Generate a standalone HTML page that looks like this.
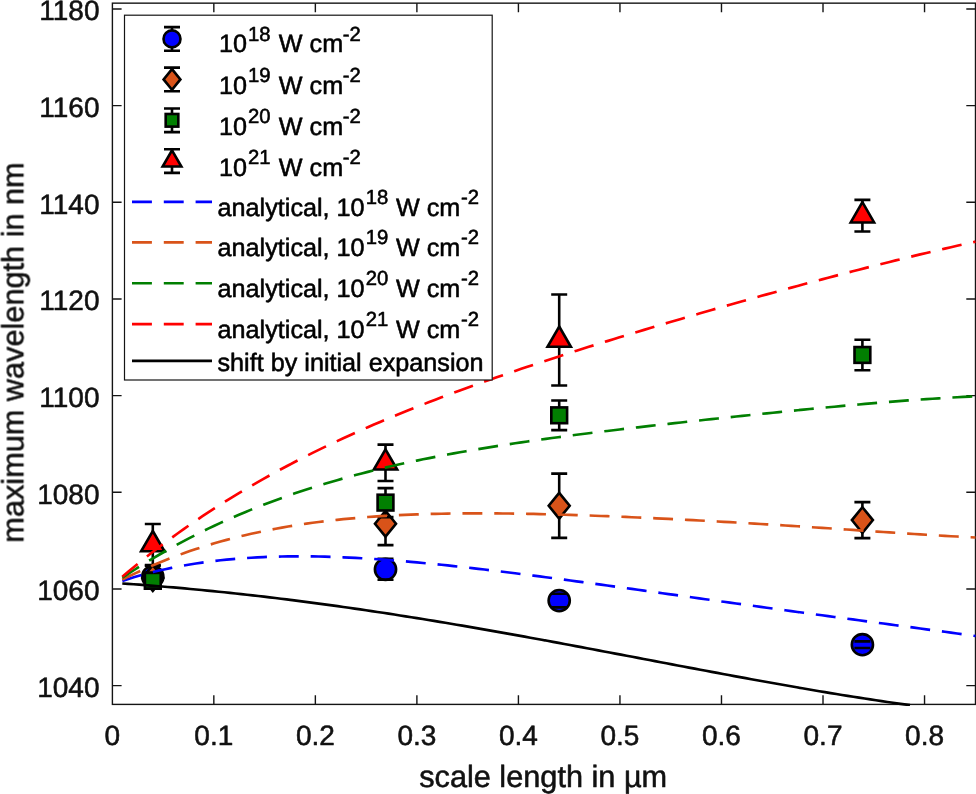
<!DOCTYPE html>
<html><head><meta charset="utf-8"><title>maximum wavelength vs scale length</title>
<style>
html,body{margin:0;padding:0;background:#fff;}
svg{display:block;}
text{font-family:"Liberation Sans", sans-serif;fill:#000;stroke:#000;stroke-width:0.55px;stroke-linejoin:round;text-rendering:geometricPrecision;}
.tick{font-size:28px;fill:#111;stroke:#111;}
.lab{font-size:30.7px;fill:#111;stroke:#111;}
.leg{font-size:25.2px;}
.sup{font-size:20.3px;}
</style></head><body>
<svg width="976" height="794" viewBox="0 0 976 794">
<rect x="0" y="0" width="976" height="794" fill="#ffffff"/>
<g opacity="0.999">
<defs><clipPath id="ax"><rect x="112.4" y="3.15" width="864.1" height="702.85"/></clipPath></defs>

<g stroke="#141414" stroke-width="1.4" fill="none" stroke-linecap="butt">
<rect x="112.4" y="3.15" width="863.1" height="701.25"/>
<path d="M213.83 704.4v-9.2M213.83 3.15v9.2"/>
<path d="M315.36 704.4v-9.2M315.36 3.15v9.2"/>
<path d="M416.89 704.4v-9.2M416.89 3.15v9.2"/>
<path d="M518.42 704.4v-9.2M518.42 3.15v9.2"/>
<path d="M619.95 704.4v-9.2M619.95 3.15v9.2"/>
<path d="M721.48 704.4v-9.2M721.48 3.15v9.2"/>
<path d="M823.01 704.4v-9.2M823.01 3.15v9.2"/>
<path d="M924.54 704.4v-9.2M924.54 3.15v9.2"/>
<path d="M112.4 685.60h9.2M975.5 685.60h-9.2"/>
<path d="M112.4 588.94h9.2M975.5 588.94h-9.2"/>
<path d="M112.4 492.28h9.2M975.5 492.28h-9.2"/>
<path d="M112.4 395.62h9.2M975.5 395.62h-9.2"/>
<path d="M112.4 298.96h9.2M975.5 298.96h-9.2"/>
<path d="M112.4 202.30h9.2M975.5 202.30h-9.2"/>
<path d="M112.4 105.64h9.2M975.5 105.64h-9.2"/>
<path d="M112.4 8.98h9.2M975.5 8.98h-9.2"/>
</g>
<g clip-path="url(#ax)">
<path d="M152.80 565.70V587.70" stroke="#000" stroke-width="2.6" fill="none"/>
<circle cx="152.80" cy="576.70" r="10.60" fill="#0000ff" stroke="#000" stroke-width="2.6" stroke-linejoin="miter"/>
<path d="M144.80 565.70h16M144.80 587.70h16" stroke="#000" stroke-width="2.6" fill="none"/>
<path d="M385.50 558.80V579.80" stroke="#000" stroke-width="2.6" fill="none"/>
<circle cx="385.50" cy="569.30" r="10.60" fill="#0000ff" stroke="#000" stroke-width="2.6" stroke-linejoin="miter"/>
<path d="M377.50 558.80h16M377.50 579.80h16" stroke="#000" stroke-width="2.6" fill="none"/>
<path d="M559.20 593.80V607.40" stroke="#000" stroke-width="2.6" fill="none"/>
<circle cx="559.20" cy="600.60" r="10.60" fill="#0000ff" stroke="#000" stroke-width="2.6" stroke-linejoin="miter"/>
<path d="M551.20 593.80h16M551.20 607.40h16" stroke="#000" stroke-width="2.6" fill="none"/>
<path d="M862.40 641.40V648.00" stroke="#000" stroke-width="2.6" fill="none"/>
<circle cx="862.40" cy="644.70" r="10.60" fill="#0000ff" stroke="#000" stroke-width="2.6" stroke-linejoin="miter"/>
<path d="M854.40 641.40h16M854.40 648.00h16" stroke="#000" stroke-width="2.6" fill="none"/>
<path d="M152.80 573.00V583.00" stroke="#000" stroke-width="2.6" fill="none"/>
<path d="M152.80 565.10L163.30 578.00L152.80 590.90L142.30 578.00Z" fill="#d95319" stroke="#000" stroke-width="2.6" stroke-linejoin="miter"/>
<path d="M144.80 573.00h16M144.80 583.00h16" stroke="#000" stroke-width="2.6" fill="none"/>
<path d="M385.50 502.30V545.10" stroke="#000" stroke-width="2.6" fill="none"/>
<path d="M385.50 510.80L396.00 523.70L385.50 536.60L375.00 523.70Z" fill="#d95319" stroke="#000" stroke-width="2.6" stroke-linejoin="miter"/>
<path d="M377.50 502.30h16M377.50 545.10h16" stroke="#000" stroke-width="2.6" fill="none"/>
<path d="M559.20 473.60V537.90" stroke="#000" stroke-width="2.6" fill="none"/>
<path d="M559.20 492.85L569.70 505.75L559.20 518.65L548.70 505.75Z" fill="#d95319" stroke="#000" stroke-width="2.6" stroke-linejoin="miter"/>
<path d="M551.20 473.60h16M551.20 537.90h16" stroke="#000" stroke-width="2.6" fill="none"/>
<path d="M862.40 502.10V538.10" stroke="#000" stroke-width="2.6" fill="none"/>
<path d="M862.40 507.20L872.90 520.10L862.40 533.00L851.90 520.10Z" fill="#d95319" stroke="#000" stroke-width="2.6" stroke-linejoin="miter"/>
<path d="M854.40 502.10h16M854.40 538.10h16" stroke="#000" stroke-width="2.6" fill="none"/>
<path d="M152.80 572.80V588.80" stroke="#000" stroke-width="2.6" fill="none"/>
<rect x="144.90" y="572.90" width="15.80" height="15.80" fill="#007f00" stroke="#000" stroke-width="2.6" stroke-linejoin="miter"/>
<path d="M144.80 572.80h16M144.80 588.80h16" stroke="#000" stroke-width="2.6" fill="none"/>
<path d="M385.50 488.10V517.10" stroke="#000" stroke-width="2.6" fill="none"/>
<rect x="377.60" y="494.70" width="15.80" height="15.80" fill="#007f00" stroke="#000" stroke-width="2.6" stroke-linejoin="miter"/>
<path d="M377.50 488.10h16M377.50 517.10h16" stroke="#000" stroke-width="2.6" fill="none"/>
<path d="M559.20 400.50V430.10" stroke="#000" stroke-width="2.6" fill="none"/>
<rect x="551.30" y="407.40" width="15.80" height="15.80" fill="#007f00" stroke="#000" stroke-width="2.6" stroke-linejoin="miter"/>
<path d="M551.20 400.50h16M551.20 430.10h16" stroke="#000" stroke-width="2.6" fill="none"/>
<path d="M862.40 339.70V370.20" stroke="#000" stroke-width="2.6" fill="none"/>
<rect x="854.50" y="347.05" width="15.80" height="15.80" fill="#007f00" stroke="#000" stroke-width="2.6" stroke-linejoin="miter"/>
<path d="M854.40 339.70h16M854.40 370.20h16" stroke="#000" stroke-width="2.6" fill="none"/>
<path d="M152.80 524.00V565.00" stroke="#000" stroke-width="2.6" fill="none"/>
<path d="M152.80 530.99L164.50 551.25L141.10 551.25Z" fill="#ff0000" stroke="#000" stroke-width="2.6" stroke-linejoin="miter"/>
<path d="M144.80 524.00h16M144.80 565.00h16" stroke="#000" stroke-width="2.6" fill="none"/>
<path d="M385.50 444.60V481.00" stroke="#000" stroke-width="2.6" fill="none"/>
<path d="M385.50 449.29L397.20 469.55L373.80 469.55Z" fill="#ff0000" stroke="#000" stroke-width="2.6" stroke-linejoin="miter"/>
<path d="M377.50 444.60h16M377.50 481.00h16" stroke="#000" stroke-width="2.6" fill="none"/>
<path d="M559.20 294.55V385.45" stroke="#000" stroke-width="2.6" fill="none"/>
<path d="M559.20 326.49L570.90 346.75L547.50 346.75Z" fill="#ff0000" stroke="#000" stroke-width="2.6" stroke-linejoin="miter"/>
<path d="M551.20 294.55h16M551.20 385.45h16" stroke="#000" stroke-width="2.6" fill="none"/>
<path d="M862.40 199.90V231.50" stroke="#000" stroke-width="2.6" fill="none"/>
<path d="M862.40 202.19L874.10 222.45L850.70 222.45Z" fill="#ff0000" stroke="#000" stroke-width="2.6" stroke-linejoin="miter"/>
<path d="M854.40 199.90h16M854.40 231.50h16" stroke="#000" stroke-width="2.6" fill="none"/>
<path d="M122.30 580.87L128.44 578.90L134.58 577.04L140.71 575.29L146.85 573.62L152.99 572.06L159.13 570.58L165.27 569.20L171.41 567.90L177.54 566.68L183.68 565.54L189.82 564.48L195.96 563.50L202.10 562.59L208.23 561.76L214.37 560.99L220.51 560.29L226.65 559.65L232.79 559.08L238.92 558.56L245.06 558.11L251.20 557.71L257.34 557.36L263.48 557.07L269.62 556.83L275.75 556.64L281.89 556.49L288.03 556.39L294.17 556.34L300.31 556.33L306.44 556.36L312.58 556.43L318.72 556.53L324.86 556.68L331.00 556.86L337.13 557.07L343.27 557.32L349.41 557.59L355.55 557.90L361.69 558.24L367.83 558.60L373.96 558.99L380.10 559.41L386.24 559.85L392.38 560.32L398.52 560.81L404.65 561.32L410.79 561.85L416.93 562.40L423.07 562.97L429.21 563.56L435.34 564.16L441.48 564.78L447.62 565.42L453.76 566.07L459.90 566.74L466.04 567.42L472.17 568.11L478.31 568.82L484.45 569.54L490.59 570.26L496.73 571.00L502.86 571.75L509.00 572.51L515.14 573.28L521.28 574.05L527.42 574.83L533.55 575.62L539.69 576.42L545.83 577.23L551.97 578.03L558.11 578.85L564.25 579.67L570.38 580.49L576.52 581.32L582.66 582.16L588.80 582.99L594.94 583.83L601.07 584.68L607.21 585.52L613.35 586.37L619.49 587.22L625.63 588.07L631.76 588.93L637.90 589.78L644.04 590.64L650.18 591.49L656.32 592.35L662.46 593.21L668.59 594.07L674.73 594.93L680.87 595.79L687.01 596.65L693.15 597.51L699.28 598.36L705.42 599.22L711.56 600.08L717.70 600.93L723.84 601.79L729.97 602.64L736.11 603.49L742.25 604.35L748.39 605.20L754.53 606.04L760.67 606.89L766.80 607.74L772.94 608.58L779.08 609.43L785.22 610.27L791.36 611.11L797.49 611.95L803.63 612.78L809.77 613.62L815.91 614.45L822.05 615.29L828.18 616.12L834.32 616.95L840.46 617.78L846.60 618.60L852.74 619.43L858.88 620.26L865.01 621.08L871.15 621.91L877.29 622.73L883.43 623.55L889.57 624.38L895.70 625.20L901.84 626.02L907.98 626.84L914.12 627.67L920.26 628.49L926.39 629.32L932.53 630.15L938.67 630.97L944.81 631.80L950.95 632.63L957.09 633.47L963.22 634.31L969.36 635.15L975.50 635.99" fill="none" stroke="#0000ff" stroke-width="2.65" stroke-dasharray="19.9 11.9"/>
<path d="M122.30 579.62L128.44 576.56L134.58 573.60L140.71 570.73L146.85 567.97L152.99 565.29L159.13 562.71L165.27 560.22L171.41 557.82L177.54 555.50L183.68 553.27L189.82 551.12L195.96 549.05L202.10 547.06L208.23 545.15L214.37 543.31L220.51 541.55L226.65 539.86L232.79 538.24L238.92 536.69L245.06 535.20L251.20 533.78L257.34 532.43L263.48 531.13L269.62 529.90L275.75 528.72L281.89 527.60L288.03 526.54L294.17 525.53L300.31 524.57L306.44 523.66L312.58 522.80L318.72 521.99L324.86 521.23L331.00 520.51L337.13 519.83L343.27 519.19L349.41 518.60L355.55 518.04L361.69 517.53L367.83 517.05L373.96 516.60L380.10 516.19L386.24 515.81L392.38 515.46L398.52 515.15L404.65 514.86L410.79 514.60L416.93 514.37L423.07 514.16L429.21 513.98L435.34 513.83L441.48 513.70L447.62 513.59L453.76 513.50L459.90 513.43L466.04 513.38L472.17 513.35L478.31 513.34L484.45 513.35L490.59 513.37L496.73 513.41L502.86 513.46L509.00 513.53L515.14 513.62L521.28 513.71L527.42 513.82L533.55 513.94L539.69 514.07L545.83 514.22L551.97 514.37L558.11 514.54L564.25 514.72L570.38 514.90L576.52 515.09L582.66 515.30L588.80 515.51L594.94 515.73L601.07 515.95L607.21 516.19L613.35 516.43L619.49 516.68L625.63 516.94L631.76 517.20L637.90 517.47L644.04 517.74L650.18 518.02L656.32 518.31L662.46 518.60L668.59 518.90L674.73 519.20L680.87 519.51L687.01 519.83L693.15 520.15L699.28 520.47L705.42 520.80L711.56 521.13L717.70 521.47L723.84 521.82L729.97 522.17L736.11 522.52L742.25 522.88L748.39 523.24L754.53 523.60L760.67 523.97L766.80 524.35L772.94 524.73L779.08 525.11L785.22 525.49L791.36 525.88L797.49 526.28L803.63 526.67L809.77 527.07L815.91 527.47L822.05 527.88L828.18 528.28L834.32 528.69L840.46 529.10L846.60 529.51L852.74 529.93L858.88 530.34L865.01 530.75L871.15 531.17L877.29 531.58L883.43 531.99L889.57 532.40L895.70 532.80L901.84 533.21L907.98 533.60L914.12 534.00L920.26 534.39L926.39 534.77L932.53 535.15L938.67 535.51L944.81 535.87L950.95 536.22L957.09 536.55L963.22 536.88L969.36 537.19L975.50 537.48" fill="none" stroke="#d95319" stroke-width="2.65" stroke-dasharray="19.9 11.9"/>
<path d="M122.30 577.76L128.44 573.71L134.58 569.74L140.71 565.87L146.85 562.08L152.99 558.38L159.13 554.76L165.27 551.23L171.41 547.78L177.54 544.40L183.68 541.11L189.82 537.89L195.96 534.75L202.10 531.68L208.23 528.68L214.37 525.76L220.51 522.91L226.65 520.12L232.79 517.40L238.92 514.75L245.06 512.16L251.20 509.63L257.34 507.17L263.48 504.77L269.62 502.42L275.75 500.14L281.89 497.90L288.03 495.73L294.17 493.61L300.31 491.54L306.44 489.52L312.58 487.55L318.72 485.63L324.86 483.76L331.00 481.93L337.13 480.15L343.27 478.41L349.41 476.72L355.55 475.07L361.69 473.45L367.83 471.88L373.96 470.35L380.10 468.85L386.24 467.39L392.38 465.96L398.52 464.57L404.65 463.21L410.79 461.88L416.93 460.59L423.07 459.32L429.21 458.08L435.34 456.87L441.48 455.69L447.62 454.53L453.76 453.40L459.90 452.29L466.04 451.20L472.17 450.14L478.31 449.10L484.45 448.08L490.59 447.08L496.73 446.10L502.86 445.14L509.00 444.20L515.14 443.27L521.28 442.36L527.42 441.46L533.55 440.58L539.69 439.72L545.83 438.86L551.97 438.03L558.11 437.20L564.25 436.38L570.38 435.58L576.52 434.78L582.66 434.00L588.80 433.22L594.94 432.46L601.07 431.70L607.21 430.95L613.35 430.21L619.49 429.48L625.63 428.75L631.76 428.03L637.90 427.32L644.04 426.61L650.18 425.90L656.32 425.21L662.46 424.51L668.59 423.83L674.73 423.14L680.87 422.46L687.01 421.79L693.15 421.11L699.28 420.45L705.42 419.78L711.56 419.12L717.70 418.47L723.84 417.81L729.97 417.16L736.11 416.51L742.25 415.87L748.39 415.23L754.53 414.59L760.67 413.96L766.80 413.33L772.94 412.71L779.08 412.08L785.22 411.47L791.36 410.85L797.49 410.24L803.63 409.64L809.77 409.04L815.91 408.45L822.05 407.86L828.18 407.28L834.32 406.70L840.46 406.13L846.60 405.57L852.74 405.01L858.88 404.47L865.01 403.93L871.15 403.40L877.29 402.88L883.43 402.37L889.57 401.87L895.70 401.38L901.84 400.91L907.98 400.44L914.12 399.99L920.26 399.55L926.39 399.13L932.53 398.72L938.67 398.33L944.81 397.96L950.95 397.60L957.09 397.26L963.22 396.94L969.36 396.64L975.50 396.37" fill="none" stroke="#007f00" stroke-width="2.65" stroke-dasharray="19.9 11.9"/>
<path d="M122.30 576.64L128.44 571.48L134.58 566.41L140.71 561.44L146.85 556.56L152.99 551.77L159.13 547.07L165.27 542.45L171.41 537.92L177.54 533.48L183.68 529.11L189.82 524.82L195.96 520.61L202.10 516.47L208.23 512.41L214.37 508.41L220.51 504.49L226.65 500.64L232.79 496.85L238.92 493.12L245.06 489.46L251.20 485.86L257.34 482.32L263.48 478.84L269.62 475.42L275.75 472.05L281.89 468.73L288.03 465.47L294.17 462.26L300.31 459.10L306.44 455.99L312.58 452.92L318.72 449.90L324.86 446.93L331.00 443.99L337.13 441.10L343.27 438.25L349.41 435.44L355.55 432.67L361.69 429.94L367.83 427.24L373.96 424.58L380.10 421.95L386.24 419.36L392.38 416.79L398.52 414.26L404.65 411.76L410.79 409.29L416.93 406.84L423.07 404.43L429.21 402.04L435.34 399.67L441.48 397.33L447.62 395.02L453.76 392.73L459.90 390.46L466.04 388.21L472.17 385.98L478.31 383.78L484.45 381.59L490.59 379.42L496.73 377.27L502.86 375.14L509.00 373.03L515.14 370.93L521.28 368.85L527.42 366.78L533.55 364.73L539.69 362.69L545.83 360.67L551.97 358.66L558.11 356.66L564.25 354.68L570.38 352.70L576.52 350.74L582.66 348.80L588.80 346.86L594.94 344.93L601.07 343.01L607.21 341.11L613.35 339.21L619.49 337.32L625.63 335.44L631.76 333.57L637.90 331.71L644.04 329.86L650.18 328.02L656.32 326.18L662.46 324.35L668.59 322.53L674.73 320.72L680.87 318.91L687.01 317.11L693.15 315.32L699.28 313.54L705.42 311.76L711.56 309.99L717.70 308.23L723.84 306.48L729.97 304.73L736.11 302.99L742.25 301.25L748.39 299.52L754.53 297.80L760.67 296.09L766.80 294.38L772.94 292.68L779.08 290.99L785.22 289.31L791.36 287.63L797.49 285.96L803.63 284.30L809.77 282.64L815.91 281.00L822.05 279.36L828.18 277.73L834.32 276.10L840.46 274.49L846.60 272.89L852.74 271.29L858.88 269.71L865.01 268.13L871.15 266.56L877.29 265.01L883.43 263.46L889.57 261.92L895.70 260.40L901.84 258.88L907.98 257.38L914.12 255.89L920.26 254.41L926.39 252.94L932.53 251.48L938.67 250.04L944.81 248.61L950.95 247.19L957.09 245.79L963.22 244.40L969.36 243.02L975.50 241.66" fill="none" stroke="#ff0000" stroke-width="2.65" stroke-dasharray="19.9 11.9"/>
<path d="M122.30 583.46L127.97 583.86L133.63 584.27L139.30 584.69L144.97 585.12L150.63 585.56L156.30 586.01L161.97 586.47L167.64 586.95L173.30 587.43L178.97 587.93L184.64 588.44L190.30 588.96L195.97 589.49L201.64 590.03L207.30 590.58L212.97 591.14L218.64 591.72L224.30 592.30L229.97 592.90L235.64 593.50L241.31 594.12L246.97 594.75L252.64 595.39L258.31 596.04L263.97 596.69L269.64 597.36L275.31 598.04L280.97 598.73L286.64 599.43L292.31 600.15L297.97 600.87L303.64 601.60L309.31 602.34L314.97 603.09L320.64 603.85L326.31 604.62L331.98 605.39L337.64 606.18L343.31 606.98L348.98 607.79L354.64 608.60L360.31 609.43L365.98 610.26L371.64 611.10L377.31 611.95L382.98 612.81L388.64 613.68L394.31 614.56L399.98 615.44L405.65 616.33L411.31 617.23L416.98 618.14L422.65 619.06L428.31 619.98L433.98 620.91L439.65 621.85L445.31 622.79L450.98 623.74L456.65 624.70L462.31 625.67L467.98 626.64L473.65 627.61L479.32 628.60L484.98 629.59L490.65 630.58L496.32 631.58L501.98 632.59L507.65 633.60L513.32 634.62L518.98 635.64L524.65 636.67L530.32 637.70L535.98 638.73L541.65 639.77L547.32 640.82L552.98 641.86L558.65 642.91L564.32 643.97L569.99 645.03L575.65 646.09L581.32 647.15L586.99 648.22L592.65 649.28L598.32 650.35L603.99 651.43L609.65 652.50L615.32 653.58L620.99 654.65L626.65 655.73L632.32 656.81L637.99 657.89L643.66 658.97L649.32 660.05L654.99 661.13L660.66 662.21L666.32 663.28L671.99 664.36L677.66 665.44L683.32 666.51L688.99 667.59L694.66 668.66L700.32 669.73L705.99 670.79L711.66 671.86L717.33 672.92L722.99 673.98L728.66 675.03L734.33 676.08L739.99 677.13L745.66 678.17L751.33 679.21L756.99 680.24L762.66 681.27L768.33 682.29L773.99 683.31L779.66 684.32L785.33 685.32L790.99 686.32L796.66 687.31L802.33 688.30L808.00 689.27L813.66 690.24L819.33 691.20L825.00 692.15L830.66 693.09L836.33 694.02L842.00 694.95L847.66 695.86L853.33 696.76L859.00 697.66L864.66 698.54L870.33 699.41L876.00 700.27L881.67 701.12L887.33 701.95L893.00 702.78L898.67 703.59L904.33 704.38L910.00 705.17" fill="none" stroke="#000" stroke-width="2.65"/>
</g>
<text class="tick" x="112.30" y="745.3" text-anchor="middle">0</text>
<text class="tick" x="213.83" y="745.3" text-anchor="middle">0.1</text>
<text class="tick" x="315.36" y="745.3" text-anchor="middle">0.2</text>
<text class="tick" x="416.89" y="745.3" text-anchor="middle">0.3</text>
<text class="tick" x="518.42" y="745.3" text-anchor="middle">0.4</text>
<text class="tick" x="619.95" y="745.3" text-anchor="middle">0.5</text>
<text class="tick" x="721.48" y="745.3" text-anchor="middle">0.6</text>
<text class="tick" x="823.01" y="745.3" text-anchor="middle">0.7</text>
<text class="tick" x="924.54" y="745.3" text-anchor="middle">0.8</text>
<text class="tick" x="99.5" y="697.10" text-anchor="end">1040</text>
<text class="tick" x="99.5" y="600.44" text-anchor="end">1060</text>
<text class="tick" x="99.5" y="503.78" text-anchor="end">1080</text>
<text class="tick" x="99.5" y="407.12" text-anchor="end">1100</text>
<text class="tick" x="99.5" y="310.46" text-anchor="end">1120</text>
<text class="tick" x="99.5" y="213.80" text-anchor="end">1140</text>
<text class="tick" x="99.5" y="117.14" text-anchor="end">1160</text>
<text class="tick" x="99.5" y="20.48" text-anchor="end">1180</text>
<text class="lab" x="543.2" y="786.9" text-anchor="middle">scale length in µm</text>
<text class="lab" transform="translate(23.4 352.5) rotate(-90)" text-anchor="middle">maximum wavelength in nm</text>
<rect x="124.5" y="15.2" width="367.7" height="364.8" fill="#fff" stroke="#141414" stroke-width="1.2"/>
<path d="M172.00 27.10V50.70" stroke="#000" stroke-width="2.6" fill="none"/>
<circle cx="172.00" cy="38.90" r="8.48" fill="#0000ff" stroke="#000" stroke-width="2.6" stroke-linejoin="miter"/>
<path d="M164.00 27.10h16M164.00 50.70h16" stroke="#000" stroke-width="2.6" fill="none"/>
<path d="M172.00 67.60V91.20" stroke="#000" stroke-width="2.6" fill="none"/>
<path d="M172.00 69.08L180.40 79.40L172.00 89.72L163.60 79.40Z" fill="#d95319" stroke="#000" stroke-width="2.6" stroke-linejoin="miter"/>
<path d="M164.00 67.60h16M164.00 91.20h16" stroke="#000" stroke-width="2.6" fill="none"/>
<path d="M172.00 108.50V132.10" stroke="#000" stroke-width="2.6" fill="none"/>
<rect x="165.68" y="113.98" width="12.64" height="12.64" fill="#007f00" stroke="#000" stroke-width="2.6" stroke-linejoin="miter"/>
<path d="M164.00 108.50h16M164.00 132.10h16" stroke="#000" stroke-width="2.6" fill="none"/>
<path d="M172.00 149.30V172.90" stroke="#000" stroke-width="2.6" fill="none"/>
<path d="M172.00 150.29L181.36 166.50L162.64 166.50Z" fill="#ff0000" stroke="#000" stroke-width="2.6" stroke-linejoin="miter"/>
<path d="M164.00 149.30h16M164.00 172.90h16" stroke="#000" stroke-width="2.6" fill="none"/>
<path d="M132 201.9H212" stroke="#0000ff" stroke-width="2.65" stroke-dasharray="19.9 11.9" fill="none"/>
<path d="M132 242.4H212" stroke="#d95319" stroke-width="2.65" stroke-dasharray="19.9 11.9" fill="none"/>
<path d="M132 283.2H212" stroke="#007f00" stroke-width="2.65" stroke-dasharray="19.9 11.9" fill="none"/>
<path d="M132 324.1H212" stroke="#ff0000" stroke-width="2.65" stroke-dasharray="19.9 11.9" fill="none"/>
<path d="M132 360.8H212" stroke="#000" stroke-width="2.65" fill="none"/>
<g opacity="0.998">
<text class="leg" x="218.9" y="52.3">10<tspan class="sup" dx="1" dy="-11.8">18</tspan><tspan dx="1.3" dy="11.8"> W cm</tspan><tspan class="sup" dx="-0.3" dy="-11.8">-2</tspan></text>
<text class="leg" x="218.9" y="94.2">10<tspan class="sup" dx="1" dy="-11.8">19</tspan><tspan dx="1.3" dy="11.8"> W cm</tspan><tspan class="sup" dx="-0.3" dy="-11.8">-2</tspan></text>
<text class="leg" x="218.9" y="134.7">10<tspan class="sup" dx="1" dy="-11.8">20</tspan><tspan dx="1.3" dy="11.8"> W cm</tspan><tspan class="sup" dx="-0.3" dy="-11.8">-2</tspan></text>
<text class="leg" x="218.9" y="175.8">10<tspan class="sup" dx="1" dy="-11.8">21</tspan><tspan dx="1.3" dy="11.8"> W cm</tspan><tspan class="sup" dx="-0.3" dy="-11.8">-2</tspan></text>
<text class="leg" x="217.6" y="215.8">analytical, 10<tspan class="sup" dx="1.2" dy="-11.8">18</tspan><tspan dx="0.6" dy="11.8"> W cm</tspan><tspan class="sup" dx="0.6" dy="-11.8">-2</tspan></text>
<text class="leg" x="217.6" y="255.9">analytical, 10<tspan class="sup" dx="1.2" dy="-11.8">19</tspan><tspan dx="0.6" dy="11.8"> W cm</tspan><tspan class="sup" dx="0.6" dy="-11.8">-2</tspan></text>
<text class="leg" x="217.6" y="296.8">analytical, 10<tspan class="sup" dx="1.2" dy="-11.8">20</tspan><tspan dx="0.6" dy="11.8"> W cm</tspan><tspan class="sup" dx="0.6" dy="-11.8">-2</tspan></text>
<text class="leg" x="217.6" y="337.7">analytical, 10<tspan class="sup" dx="1.2" dy="-11.8">21</tspan><tspan dx="0.6" dy="11.8"> W cm</tspan><tspan class="sup" dx="0.6" dy="-11.8">-2</tspan></text>
<text class="leg" x="217.5" y="370.8">shift by initial expansion</text>
</g>
</g></svg></body></html>
